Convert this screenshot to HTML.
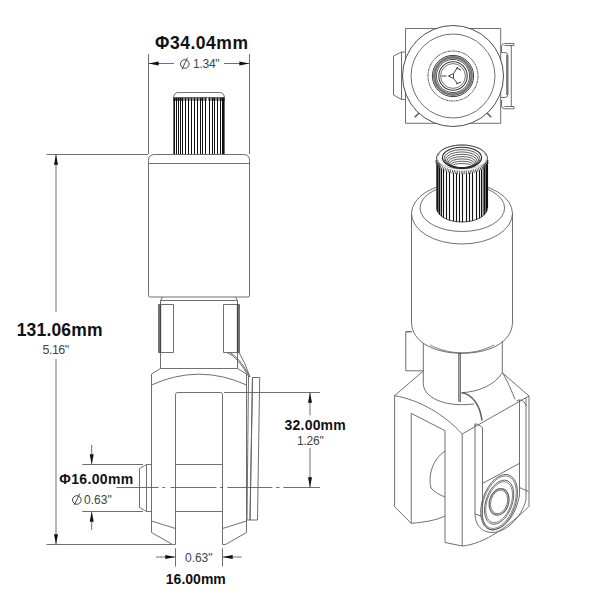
<!DOCTYPE html>
<html><head><meta charset="utf-8">
<style>
html,body{margin:0;padding:0;background:#fff;width:600px;height:600px;overflow:hidden}
svg{display:block}
text{font-family:"Liberation Sans",sans-serif;fill:#111}
.p{fill:none;stroke:#606060;stroke-width:0.9;stroke-linejoin:round}
.d{fill:none;stroke:#606060;stroke-width:0.9}
.a{fill:#111;stroke:none}
.b{font-weight:bold}
.t{fill:#444}
</style></head><body>
<svg width="600" height="600" viewBox="0 0 600 600">
<!-- ============ LEFT VIEW ============ -->
<g id="left">
  <!-- knurl -->
  <path class="p" d="M173.5,154.5 V98.5 Q173.5,92.5 178.5,92.5 H219.5 Q224.5,92.5 224.5,98.5 V154.5"/>
  <line class="p" x1="173.5" y1="97.5" x2="224.5" y2="97.5"/>
  
  <g id="knurl" stroke="#111" stroke-width="1">
<line x1="174.50" y1="98" x2="174.50" y2="154.5"/>
<line x1="174.50" y1="97.8" x2="174.50" y2="100.8" stroke-width="2"/>
<line x1="176.50" y1="98" x2="176.50" y2="154.5"/>
<line x1="176.50" y1="97.8" x2="176.50" y2="100.8" stroke-width="2"/>
<line x1="178.50" y1="98" x2="178.50" y2="154.5"/>
<line x1="178.50" y1="97.8" x2="178.50" y2="100.8" stroke-width="2"/>
<line x1="180.50" y1="98" x2="180.50" y2="154.5"/>
<line x1="180.50" y1="97.8" x2="180.50" y2="100.8" stroke-width="2"/>
<line x1="182.50" y1="98" x2="182.50" y2="154.5"/>
<line x1="182.50" y1="97.8" x2="182.50" y2="100.8" stroke-width="2"/>
<line x1="185.50" y1="98" x2="185.50" y2="154.5"/>
<line x1="185.50" y1="97.8" x2="185.50" y2="100.8" stroke-width="2"/>
<line x1="188.50" y1="98" x2="188.50" y2="154.5"/>
<line x1="188.50" y1="97.8" x2="188.50" y2="100.8" stroke-width="2"/>
<line x1="191.50" y1="98" x2="191.50" y2="154.5"/>
<line x1="191.50" y1="97.8" x2="191.50" y2="100.8" stroke-width="2"/>
<line x1="194.50" y1="98" x2="194.50" y2="154.5"/>
<line x1="194.50" y1="97.8" x2="194.50" y2="100.8" stroke-width="2"/>
<line x1="197.50" y1="98" x2="197.50" y2="154.5"/>
<line x1="197.50" y1="97.8" x2="197.50" y2="100.8" stroke-width="2"/>
<line x1="200.50" y1="98" x2="200.50" y2="154.5"/>
<line x1="200.50" y1="97.8" x2="200.50" y2="100.8" stroke-width="2"/>
<line x1="202.50" y1="98" x2="202.50" y2="154.5"/>
<line x1="202.50" y1="97.8" x2="202.50" y2="100.8" stroke-width="2"/>
<line x1="205.50" y1="98" x2="205.50" y2="154.5"/>
<line x1="205.50" y1="97.8" x2="205.50" y2="100.8" stroke-width="2"/>
<line x1="209.50" y1="98" x2="209.50" y2="154.5"/>
<line x1="209.50" y1="97.8" x2="209.50" y2="100.8" stroke-width="2"/>
<line x1="212.50" y1="98" x2="212.50" y2="154.5"/>
<line x1="212.50" y1="97.8" x2="212.50" y2="100.8" stroke-width="2"/>
<line x1="214.50" y1="98" x2="214.50" y2="154.5"/>
<line x1="214.50" y1="97.8" x2="214.50" y2="100.8" stroke-width="2"/>
<line x1="217.50" y1="98" x2="217.50" y2="154.5"/>
<line x1="217.50" y1="97.8" x2="217.50" y2="100.8" stroke-width="2"/>
<line x1="220.50" y1="98" x2="220.50" y2="154.5"/>
<line x1="220.50" y1="97.8" x2="220.50" y2="100.8" stroke-width="2"/>
<line x1="222.50" y1="98" x2="222.50" y2="154.5"/>
<line x1="222.50" y1="97.8" x2="222.50" y2="100.8" stroke-width="2"/>
<line x1="223.50" y1="98" x2="223.50" y2="154.5"/>
<line x1="223.50" y1="97.8" x2="223.50" y2="100.8" stroke-width="2"/>
</g>
  <!-- body -->
  <path class="p" d="M148.5,295.5 V160.5 Q148.5,154.5 154.5,154.5 H243.5 Q249.5,154.5 249.5,160.5 V295.5 Q249.5,297 248,297 H150 Q148.5,297 148.5,295.5 Z"/>
  <line class="p" x1="148.5" y1="163.5" x2="249.5" y2="163.5"/>
  <!-- neck -->
  <path class="p" d="M162.5,297 L160.5,300.5 H237.5 L235.5,297"/>
  <path class="p" d="M160.5,300.5 V368.5 M237.5,300.5 V368.5"/>
  <path class="p" d="M158.5,304.5 H173.5 V352.5 H158.5 Z"/>
  <line x1="160.2" y1="304.5" x2="160.2" y2="352.5" stroke="#444" stroke-width="1.9"/>
  <path class="p" d="M223.5,304.5 H239.5 V352.5 H223.5 Z"/>
  <line x1="237.8" y1="304.5" x2="237.8" y2="352.5" stroke="#444" stroke-width="1.9"/>
  <!-- clip curve -->
  <path class="p" d="M227,352.5 Q238,357 249,377"/>
  <path class="p" d="M230,352.5 Q240,358 250,377"/>
  <path class="p" d="M239,352.5 Q245,362 250,377"/>
  <!-- clevis -->
  <path class="p" d="M160.5,368.5 H237.5 L246.5,374 V532.5 L225.5,544.5 H222.5 V394.5 Q222.5,392.5 220.5,392.5 H177.5 Q175.5,392.5 175.5,394.5 V544.5 H172.5 L151.5,532.5 V374 Z"/>
  <path class="p" d="M151.5,385 Q199,363.4 246.5,385"/>
  <path class="p" d="M151.5,521 L175.5,528.5 M246.5,521 L222.5,528.5"/>
  <path class="p" d="M175.5,464.5 H222.5 M175.5,511.5 H222.5"/>
  <!-- pin head -->
  <path class="p" d="M151.5,464.5 H146.5 L139.5,468.5 V507.5 L146.5,511.5 H151.5"/>
  <line class="p" x1="146.5" y1="464.5" x2="146.5" y2="511.5"/>
  <!-- clip strip -->
  <path class="p" d="M248.5,376 L247,520 H257.5 L259.7,377.5 H252.5 L250,520"/>
  <line class="p" x1="252.5" y1="377.5" x2="250" y2="520"/>
</g>
<!-- ============ DIMENSIONS LEFT ============ -->
<g id="dims">
  <!-- top dia -->
  <path class="d" d="M148.5,54 V154 M249.5,54 V154"/>
  <path class="d" d="M149,63.5 H174 M224,63.5 H249"/>
  <path class="a" d="M148.5,63.5 L158.7,61.50 L158.7,65.50 Z"/>
  <path class="a" d="M249.5,63.5 L239.3,61.50 L239.3,65.50 Z"/>
  <!-- 131.06 -->
  <path class="d" d="M46.5,154.5 H148 M46.5,544.5 H172"/>
  <path class="d" d="M56,154.5 V312 M56,359 V544"/>
  <path class="a" d="M56.0,154.5 L54.00,164.7 L58.00,164.7 Z"/>
  <path class="a" d="M56.0,544.5 L54.00,534.3 L58.00,534.3 Z"/>
  <!-- 16 dia pin -->
  <path class="d" d="M82.3,464.5 H143 M82.3,511.5 H143"/>
  <path class="d" d="M91.7,445 V464 M91.7,512 V530"/>
  <path class="a" d="M91.7,464.5 L89.70,454.3 L93.70,454.3 Z"/>
  <path class="a" d="M91.7,511.5 L89.70,521.7 L93.70,521.7 Z"/>
  <!-- center line -->
  <path class="d" d="M116.4,487.5 H158.6 M162.3,487.5 H165.2 M170.5,487.5 H216.4 M220,487.5 H222.8 M227.3,487.5 H272.3 M276,487.5 H279.6 M283.3,487.5 H320"/>
  <!-- 32.00 -->
  <path class="d" d="M224,392.5 H320"/>
  <path class="d" d="M310,392.5 V415.3 M310,448 V487.5"/>
  <path class="a" d="M310.0,392.5 L308.00,402.7 L312.00,402.7 Z"/>
  <path class="a" d="M310.0,487.5 L308.00,477.3 L312.00,477.3 Z"/>
  <!-- 16.00 bottom -->
  <path class="d" d="M175.5,548.2 V566.5 M222.5,548.2 V566.5"/>
  <path class="d" d="M156,557 H175 M223,557 H241.7"/>
  <path class="a" d="M175.5,557.0 L165.3,555.00 L165.3,559.00 Z"/>
  <path class="a" d="M222.5,557.0 L232.7,555.00 L232.7,559.00 Z"/>
  <g id="texts">
  <text class="b" x="155" y="48.5" font-size="17.5" textLength="93" lengthAdjust="spacing">Φ34.04mm</text>
  <text class="t" x="193" y="67.6" font-size="12" textLength="26.6" lengthAdjust="spacing">1.34"</text>
  <text class="b" x="16.7" y="335.8" font-size="17.5" textLength="85.8" lengthAdjust="spacing">131.06mm</text>
  <text class="t" x="42.5" y="354.2" font-size="12.5" textLength="26.7" lengthAdjust="spacing">5.16"</text>
  <text class="b" x="59.3" y="483.75" font-size="14" textLength="73.9" lengthAdjust="spacing">Φ16.00mm</text>
  <text class="t" x="84" y="503.6" font-size="12" textLength="27.8" lengthAdjust="spacing">0.63"</text>
  <text class="b" x="284.6" y="430" font-size="14" textLength="61.1" lengthAdjust="spacing">32.00mm</text>
  <text class="t" x="297" y="445.3" font-size="12" textLength="26.7" lengthAdjust="spacing">1.26"</text>
  <text class="t" x="185" y="561.7" font-size="12" textLength="27.5" lengthAdjust="spacing">0.63"</text>
  <text class="b" x="165.8" y="584.2" font-size="14" textLength="60" lengthAdjust="spacing">16.00mm</text>
  <g fill="none" stroke="#333" stroke-width="0.9">
    <circle cx="184.8" cy="64" r="4.3"/><line x1="182" y1="69.2" x2="187.6" y2="57.6"/>
    <circle cx="76.8" cy="500" r="4.3"/><line x1="74.4" y1="504.8" x2="79.8" y2="493.6"/>
  </g>
  </g>
</g>
<!-- ============ END VIEW ============ -->
<g id="end">
  <rect class="p" x="405.5" y="28.5" width="95.2" height="94.8"/>
  <circle cx="453" cy="76" r="50.5" fill="#fff" stroke="#3a3a3a" stroke-width="0.9"/>
  <circle class="p" cx="453" cy="76" r="42"/>
  <circle class="p" style="stroke-width:1;stroke-dasharray:2 0.6;stroke:#505050" cx="453" cy="76" r="25"/>
  <circle class="p" style="stroke-width:1;stroke:#404040" cx="453" cy="76" r="20.6"/>
  <circle class="p" style="stroke-width:2.6;stroke:#777" cx="453" cy="76" r="18.6"/>
  <circle class="p" style="stroke-width:0.9;stroke:#404040" cx="453" cy="76" r="16.6"/>
  <circle class="p" style="stroke-width:1.1;stroke:#404040" cx="453" cy="76" r="14.2"/>
  <circle class="p" style="stroke-width:0.8;stroke:#505050" cx="453" cy="76" r="12.4"/>
  <path class="p" style="stroke-width:1;stroke:#404040" d="M441.5,76 H446.5 M448.5,76 L453.5,73.5 L453.5,78.5 Z M453.5,73.5 L458,66.8 M453.5,78.5 L458,84 M456,68 L461,70 M456,84 L461,82"/>
  <!-- pin head -->
  <path class="p" d="M405,52 H401.5 L393.5,56 V95 L401.5,99.5 H405"/>
  <line class="p" x1="401.5" y1="52" x2="401.5" y2="99.5"/>
  <!-- clip -->
  <path class="p" d="M501.5,52 V47 Q501.5,43.5 505,43.5 H514 V45.5 H504.5 M501.5,100 V105 Q501.5,108.8 505,108.8 H514 V106.5 H504.5"/>
  <line class="p" x1="511.3" y1="45.5" x2="511.3" y2="106.5"/>
  <path class="p" d="M501,52.5 H505 Q508,52.5 508,56 V94 Q508,97.5 505,97.5 H501"/>
  <line x1="507" y1="55" x2="507" y2="95" stroke="#666" stroke-width="1.6"/>
  <path class="p" style="stroke-width:1.6" d="M419,113 L414.7,117.3 M487,113 L491.3,117.3"/>
</g>
<!-- ============ ISO VIEW ============ -->
<g id="iso">
  <!-- big cylinder -->
  <ellipse class="p" cx="462" cy="213.5" rx="50.5" ry="30.5"/>
  <ellipse class="p" cx="462.3" cy="208" rx="42.3" ry="23.5"/>
  <path class="p" d="M411.5,213.5 V322 C411.5,343 436,353.3 462,353.3 C488,353.3 512.5,343 512.5,322 V213.5"/>
  <path class="p" style="stroke-width:0.8" d="M430,345 C440,350 450,352.8 462,352.8 C474,352.8 484,350 494,345"/>
  <!-- knurl iso -->
  <path d="M436.6,158 A25.4,13 0 0 1 487.4,158 V208 A25.4,14 0 0 1 436.6,208 Z" fill="#fff" stroke="#333" stroke-width="0.9"/>
  <path d="M436.8,161 V208 A25.2,14 0 0 0 440.5,215.5 V163.8 Z M487.2,161 V208 A25.2,14 0 0 1 482.5,217 V165.5 Z" fill="#777" stroke="none"/>
  <g id="knurl2" stroke="#111" stroke-width="1.1">
<line x1="437.50" y1="163.93" x2="437.50" y2="211.69"/>
<line x1="439.50" y1="166.53" x2="439.50" y2="214.50"/>
<line x1="441.50" y1="168.18" x2="441.50" y2="216.27"/>
<line x1="443.50" y1="169.41" x2="443.50" y2="217.59"/>
<line x1="446.50" y1="170.80" x2="446.50" y2="219.09"/>
<line x1="449.50" y1="171.82" x2="449.50" y2="220.19"/>
<line x1="453.50" y1="172.75" x2="453.50" y2="221.19"/>
<line x1="456.50" y1="173.19" x2="456.50" y2="221.67"/>
<line x1="459.50" y1="173.44" x2="459.50" y2="221.93"/>
<line x1="462.50" y1="173.50" x2="462.50" y2="222.00"/>
<line x1="466.50" y1="173.29" x2="466.50" y2="221.78"/>
<line x1="469.50" y1="172.92" x2="469.50" y2="221.38"/>
<line x1="472.50" y1="172.34" x2="472.50" y2="220.75"/>
<line x1="476.50" y1="171.17" x2="476.50" y2="219.49"/>
<line x1="479.50" y1="169.92" x2="479.50" y2="218.15"/>
<line x1="481.50" y1="168.83" x2="481.50" y2="216.97"/>
<line x1="484.50" y1="166.53" x2="484.50" y2="214.50"/>
<line x1="486.50" y1="163.93" x2="486.50" y2="211.69"/>
<line x1="487.50" y1="160.50" x2="487.50" y2="208.00"/>
</g>
  <path d="M436.8,160.5 A25.2,12 0 0 0 487.2,160.5" fill="none" stroke="#444" stroke-width="3.6" stroke-dasharray="0.8 1.0"/>
  <path class="p" style="stroke-width:0.6;stroke:#888" d="M436.6,158 A25.4,11 0 0 0 487.4,158"/>
  <path class="p" style="stroke-width:0.6" d="M438.5,156 A23.5,11 0 0 1 485.5,156"/>
  <g fill="none" stroke="#2a2a2a">
  <ellipse cx="462" cy="157.80" rx="19.60" ry="10.60" stroke-width="1.1"/>
  <ellipse cx="462" cy="158.91" rx="18.14" ry="9.37" stroke-width="0.75"/>
  <ellipse cx="462" cy="160.02" rx="16.68" ry="8.14" stroke-width="0.75"/>
  <ellipse cx="462" cy="161.13" rx="15.22" ry="6.91" stroke-width="0.75"/>
  <ellipse cx="462" cy="162.24" rx="13.76" ry="5.68" stroke-width="0.75"/>
  <ellipse cx="462" cy="163.35" rx="12.30" ry="4.45" stroke-width="0.75"/>
  <ellipse cx="462" cy="164.46" rx="10.84" ry="3.22" stroke-width="0.75"/>
  <ellipse cx="462" cy="165.57" rx="9.38" ry="1.99" stroke-width="0.75"/>
  </g>
  <!-- neck -->
  <path class="p" d="M423.3,343 V383.3 C423.3,396 440,404.7 462,404.7 C466,404.7 470,404.5 474,404"/>
  <path class="p" d="M502.3,341 V372.7 C495,385 478,392 461.7,392.7"/>
  <rect x="458.7" y="353.5" width="2" height="48" fill="#aaa" stroke="#444" stroke-width="0.6"/>
  <!-- pin head -->
  <path class="p" d="M405.8,331.7 V370.8 H423.3"/>
  <path class="p" style="stroke-width:1.3" d="M411.7,331.7 H405.8"/>
  <!-- clevis -->
  <path class="p" d="M423.3,371 L394.6,395.7 V506.7 L411.2,523.3 C425,522.3 437,520 445,516"/>
  <path class="p" d="M394.6,395.7 C420,400 445,415 462.2,434 L529,396 V506.7"/>
  <path class="p" d="M411.2,523.3 V413.3 L445,430.7 V542.5 L462.2,546 C485,544 510,525 528.7,506.7"/>
  <path class="p" d="M462.2,434 V546"/>
  <path class="p" d="M445,451 C432,460 428,476 431,488 C434,492 440,495 445,497"/>
  <path class="p" d="M502.3,372.7 L529,396"/>
  <path class="p" d="M503,373.3 C508,382 512,392 515,399.3"/>
  <path class="p" style="stroke-width:1.5" d="M461.7,392.7 C472,394 480,405 482,420.5"/>
  <!-- clip plate -->
  <path class="p" d="M475,423.5 V514 C475,526 483,532.5 492,532.5 C506,532.5 521,518 526,500 V398"/>
  <path class="p" d="M482.5,428 V516 C483,524 486,529 492,529.8 C504,529.8 516,516 519.5,495 V400"/>
  <path class="p" d="M475,514 L482.5,516.5"/>
  <path class="p" d="M475,426 Q475,423 478,424.5 L482.5,427.5"/>
  <path class="p" d="M516.5,401 C521,398 525.5,402 526,406"/>
  <path class="p" d="M482.5,483.5 L519.5,463.3 M519.5,487.5 L528.5,491.5"/>
  <g transform="rotate(20 499.1 502.2)">
    <ellipse class="p" cx="499.1" cy="502.2" rx="16.5" ry="28.9"/>
    <ellipse class="p" style="stroke-width:0.7" cx="499.1" cy="502.2" rx="15.3" ry="27.4"/>
    <ellipse class="p" cx="499.1" cy="502.2" rx="13.1" ry="23"/>
    <ellipse class="p" style="stroke-width:0.7" cx="499.1" cy="502.2" rx="12" ry="21.3"/>
  </g>
  <g transform="rotate(15 499.1 501.9)">
    <ellipse class="p" style="stroke-width:1.2" cx="499.1" cy="501.9" rx="9.6" ry="13.5"/>
    <ellipse class="p" style="stroke-width:0.8" cx="499.1" cy="501.9" rx="8.3" ry="12.1"/>
  </g>
</g>
</svg>

</body></html>
